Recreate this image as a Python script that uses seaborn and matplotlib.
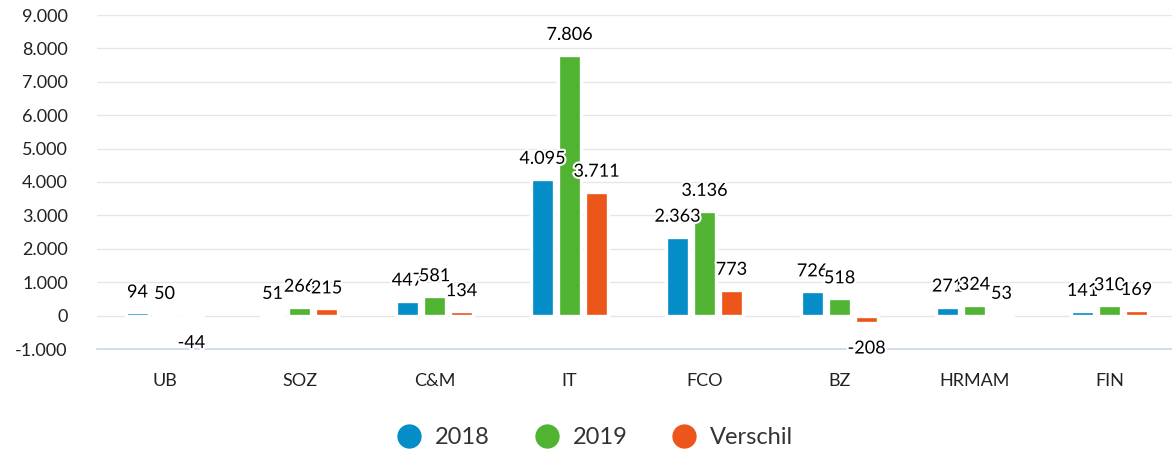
# Kosten per afdeling: 2018 vs 2019 en het verschil
import pandas as pd
import seaborn as sns
import matplotlib.pyplot as plt
import matplotlib.patheffects as pe
from matplotlib.lines import Line2D
from matplotlib.ticker import FuncFormatter, FixedLocator

afdelingen = ['UB', 'SOZ', 'C&M', 'IT', 'FCO', 'BZ', 'HRMAM', 'FIN']
series = ['2018', '2019', 'Verschil']
waarden_2018 = [94, 51, 447, 4095, 2363, 726, 271, 141]
waarden_2019 = [50, 266, 581, 7806, 3136, 518, 324, 310]
verschil = [-44, 215, 134, 3711, 773, -208, 53, 169]
kleuren = ['#058DC7', '#50B432', '#ED561B']

df = pd.DataFrame({
    'Afdeling': afdelingen * 3,
    'Serie': [s for s in series for _ in afdelingen],
    'Waarde': waarden_2018 + waarden_2019 + verschil,
})

sns.set_style('white')
plt.rcParams['font.family'] = ['Lato', 'DejaVu Sans']

def punt(v):
    return f'{int(v):,}'.replace(',', '.')

fig = plt.figure(figsize=(11.72, 4.53), dpi=100)
ax = fig.add_axes([97 / 1172, 1 - 349 / 453, 1 - 97 / 1172, (349 - 15) / 453])

sns.barplot(data=df, x='Afdeling', y='Waarde', hue='Serie', order=afdelingen,
            hue_order=series, palette=kleuren, width=0.6, gap=0.12,
            edgecolor='white', linewidth=2.4, saturation=1, legend=False, ax=ax)

# datalabels met witte rand, negatieve waarden eronder
for cont in ax.containers:
    for bar in cont:
        h = bar.get_height()
        v = bar.get_y() + h if h >= 0 else h
        off = 20 if v >= 0 else -26
        ax.annotate(punt(v), (bar.get_x() + bar.get_width() / 2, v),
                    xytext=(0, off), textcoords='offset pixels',
                    ha='center', va='center', fontsize=13, color='black',
                    path_effects=[pe.withStroke(linewidth=3, foreground='white')])

ax.set_ylim(-1000, 9000)
ax.set_xlim(-0.5, -0.5 + 1075 / 135)
ax.set_yticks(range(-1000, 9001, 1000))
ax.yaxis.set_major_formatter(FuncFormatter(lambda v, p: punt(v)))
ax.grid(axis='y', color='#e6e6e6', linewidth=1)
ax.set_axisbelow(True)
ax.set_xlabel('')
ax.set_ylabel('')

for s in ['top', 'right', 'left']:
    ax.spines[s].set_visible(False)
ax.spines['bottom'].set_color('#ccd6eb')
ax.spines['bottom'].set_linewidth(1.2)

ax.tick_params(axis='y', length=0, pad=21, labelsize=13, labelcolor='#222222')
ax.tick_params(axis='x', which='major', length=0, pad=17, labelsize=13, labelcolor='#222222')
ax.xaxis.set_minor_locator(FixedLocator([i - 0.5 for i in range(len(afdelingen) + 1)]))
ax.tick_params(axis='x', which='minor', length=14, width=1.2, color='#ccd6eb', direction='out')

handles = [Line2D([], [], marker='o', linestyle='', markersize=16.5, color=c) for c in kleuren]
fig.legend(handles, series, loc='center', bbox_to_anchor=(0.508, 1 - 438 / 453), ncol=3,
           frameon=False, fontsize=17, labelcolor='#333333', handlelength=1,
           handletextpad=0.6, columnspacing=1.9)

fig.savefig('out.png', dpi=100)
